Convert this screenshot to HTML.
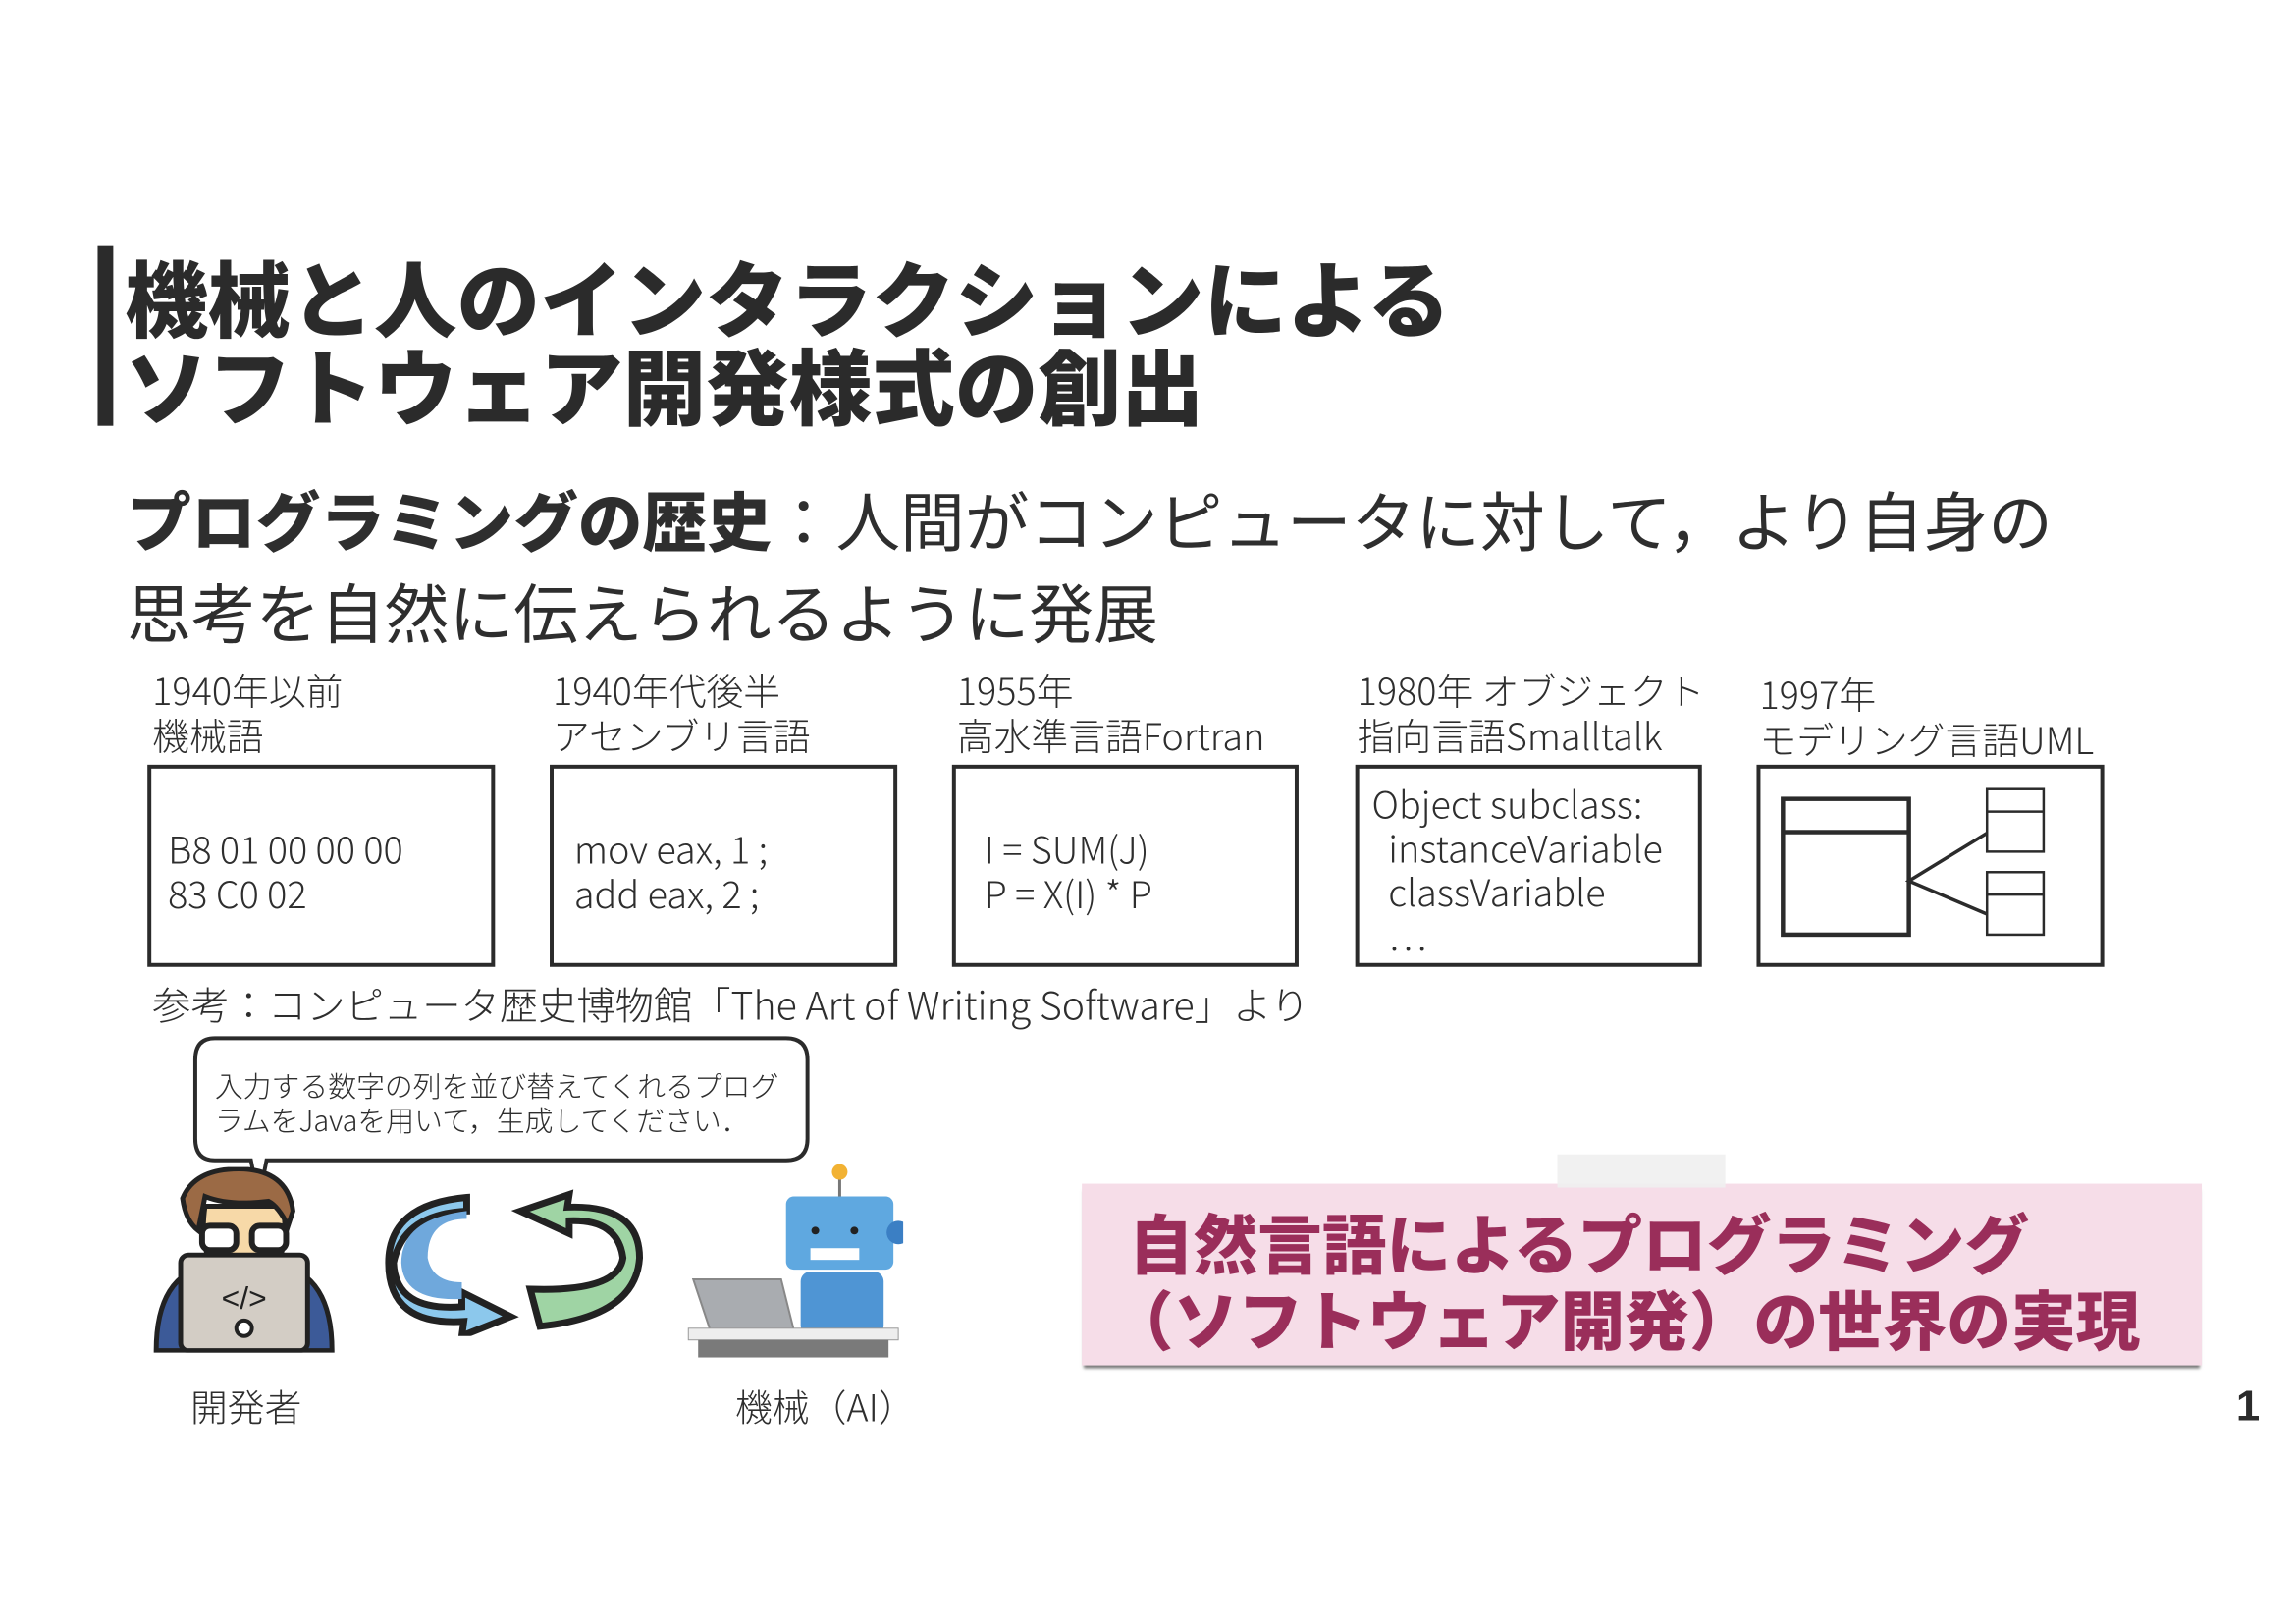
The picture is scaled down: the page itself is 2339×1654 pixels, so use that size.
<!DOCTYPE html>
<html><head><meta charset="utf-8">
<style>
body{margin:0;background:#fff;}
#w{position:relative;width:2339px;height:1654px;overflow:hidden;background:#fff;}
#p{position:absolute;left:0;top:0;width:2352px;height:1663px;transform:scale(0.9947);transform-origin:0 0;font-family:"Liberation Sans","Noto Sans CJK JP",sans-serif;color:#2e2e2e;}
.a{position:absolute;white-space:nowrap;line-height:1;}
.j{font-family:"Noto Sans CJK JP",sans-serif;}
.box{position:absolute;border:4px solid #2b2b2b;box-sizing:border-box;}
.lab{font-size:38px;font-weight:300;}
.code{font-size:38px;font-weight:300;line-height:46px;}
</style></head><body><div id="w"><div id="p">
<div style="position:absolute;left:100px;top:252px;width:16px;height:184px;background:#2b2b2b"></div>
<div class="a j" style="left:128px;top:258px;font-size:85px;font-weight:900;line-height:90px;color:#2b2b2b">機械と人のインタラクションによる<br>ソフトウェア開発様式の創出</div>
<div class="a j" style="left:130px;top:484px;font-size:66px;line-height:94px;font-weight:400"><b style="font-weight:900">プログラミングの歴史</b>：人間がコンピュータに対して，より自身の<br>思考を自然に伝えられるように発展</div>

<div class="a j lab" style="left:156px;top:683px;line-height:46px">1940年以前<br>機械語</div>
<div class="a j lab" style="left:566px;top:683px;line-height:46px">1940年代後半<br>アセンブリ言語</div>
<div class="a j lab" style="left:980px;top:683px;line-height:46px">1955年<br>高水準言語Fortran</div>
<div class="a j lab" style="left:1390px;top:683px;line-height:46px">1980年 オブジェクト<br>指向言語Smalltalk</div>
<div class="a j lab" style="left:1802px;top:687px;line-height:46px">1997年<br>モデリング言語UML</div>

<div class="box" style="left:151px;top:783px;width:356px;height:207px"></div>
<div class="box" style="left:563px;top:783px;width:356px;height:207px"></div>
<div class="box" style="left:975px;top:783px;width:355px;height:207px"></div>
<div class="box" style="left:1388px;top:783px;width:355px;height:207px"></div>
<div class="box" style="left:1799px;top:783px;width:356px;height:207px"></div>

<div class="a j code" style="left:172px;top:845px">B8 01 00 00 00<br>83 C0 02</div>
<div class="a j code" style="left:588px;top:845px">mov eax, 1 ;<br>add eax, 2 ;</div>
<div class="a j code" style="left:1008px;top:845px">I = SUM(J)<br>P = X(I) * P</div>
<div class="a j code" style="left:1405px;top:799px;line-height:45px">Object subclass:<br>&nbsp;&nbsp;instanceVariable<br>&nbsp;&nbsp;classVariable<br>&nbsp;&nbsp;…</div>
<svg class="a" style="left:1799px;top:783px" width="356" height="207">
<g fill="none" stroke="#2b2b2b">
<rect x="27" y="35" width="129" height="139" stroke-width="4.5"/>
<line x1="27" y1="69" x2="156" y2="69" stroke-width="4.5"/>
<rect x="236" y="25" width="58" height="64" stroke-width="2.5"/>
<line x1="236" y1="48" x2="294" y2="48" stroke-width="2.5"/>
<rect x="236" y="110" width="58" height="64" stroke-width="2.5"/>
<line x1="236" y1="133" x2="294" y2="133" stroke-width="2.5"/>
<polyline points="236,70 156,119 236,153" stroke-width="3.5"/>
</g></svg>

<div class="a j" style="left:156px;top:1008px;font-size:39.5px;font-weight:300">参考：コンピュータ歴史博物館「The Art of Writing Software」より</div>

<svg class="a" style="left:195px;top:1058px" width="645" height="180">
<path d="M25,5 H610 Q632,5 632,27 V108 Q632,130 610,130 H78 L70,170 L62,130 H25 Q5,130 5,108 V27 Q5,5 25,5 Z" fill="#fff" stroke="#2b2b2b" stroke-width="4"/>
</svg>
<div class="a j" style="left:220px;top:1094px;font-size:29px;font-weight:300;line-height:35px">入力する数字の列を並び替えてくれるプログ<br>ラムをJavaを用いて，生成してください．</div>

<!-- developer -->
<svg class="a" style="left:155px;top:1195px" width="190" height="190">
<path d="M5,188 Q5,110 60,100 L130,100 Q185,110 185,188 Z" fill="#3c5a98" stroke="#222" stroke-width="5"/>
<path d="M55,40 Q45,110 95,125 Q145,110 135,40 Z" fill="#f7d9a8" stroke="#222" stroke-width="5"/>
<path d="M32,32 Q45,0 95,2 Q140,5 145,45 L140,60 Q130,40 120,35 Q80,40 55,30 L48,65 Q35,55 32,32 Z" fill="#9b6a45" stroke="#222" stroke-width="5"/>
<rect x="52" y="60" width="35" height="25" rx="8" fill="#fff" stroke="#222" stroke-width="6"/>
<rect x="103" y="60" width="35" height="25" rx="8" fill="#fff" stroke="#222" stroke-width="6"/>
<rect x="30" y="90" width="130" height="98" rx="8" fill="#d3cdc5" stroke="#222" stroke-width="5"/>
<text x="95" y="145" font-size="32" font-family="Liberation Sans,sans-serif" text-anchor="middle" fill="#222">&lt;/&gt;</text>
<circle cx="95" cy="165" r="8" fill="#fff" stroke="#222" stroke-width="4"/>
</svg>

<!-- arrows -->
<svg class="a" style="left:393px;top:1218px" width="270" height="150">
<path d="M85,22 Q20,25 10,75 Q12,125 80,120 L80,105 L130,130 L80,150 L82,135 Q5,140 5,75 Q5,15 85,8 Z" fill="#8cc8ec" stroke="#222" stroke-width="7"/>
<path d="M85,30 Q45,30 45,70 Q50,95 80,95 L80,112 Q20,115 18,75 Q18,30 85,22 Z" fill="#6fa8dc"/>
<path d="M150,92 Q240,95 245,60 Q240,20 190,22 L190,35 L140,12 L190,-5 L188,8 Q262,5 262,60 Q258,120 160,130 Z" fill="#9fd4a4" stroke="#222" stroke-width="7" transform="translate(0,10)"/>
</svg>

<!-- robot -->
<svg class="a" style="left:700px;top:1190px" width="225" height="200">
<line x1="160" y1="10" x2="160" y2="35" stroke="#777" stroke-width="3"/>
<circle cx="160" cy="10" r="8" fill="#f2b233"/>
<rect x="105" y="35" width="110" height="75" rx="8" fill="#5fa8e0"/>
<circle cx="220" cy="72" r="12" fill="#3b7fc4"/>
<circle cx="135" cy="70" r="4" fill="#222"/><circle cx="175" cy="70" r="4" fill="#222"/>
<rect x="130" y="88" width="50" height="12" fill="#fff"/>
<rect x="120" y="112" width="85" height="65" rx="10" fill="#4f95d4"/>
<path d="M10,120 L100,120 L115,180 L30,180 Z" fill="#a9acb0" stroke="#888" stroke-width="2"/>
<rect x="5" y="170" width="215" height="12" fill="#eee" stroke="#999"/>
<rect x="15" y="182" width="195" height="18" fill="#7a7a7a"/>
</svg>

<div class="a j" style="left:195px;top:1420px;font-size:38px;font-weight:300">開発者</div>
<div class="a j" style="left:753px;top:1420px;font-size:38px;font-weight:300">機械（AI）</div>

<div style="position:absolute;left:1108px;top:1212px;width:1147px;height:186px;background:#f6dde8;box-shadow:0 5px 3px -2px #777"></div>
<div style="position:absolute;left:1595px;top:1182px;width:172px;height:34px;background:rgba(240,240,240,0.9)"></div>
<div class="a j" style="left:1156px;top:1232px;font-size:66px;font-weight:900;line-height:78px;color:#9a2e5a">自然言語によるプログラミング<br><span style="margin-left:-20px">（ソフトウェア開発）の世界の実現</span></div>

<div class="a" style="left:2290px;top:1418px;font-size:44px;font-weight:bold;color:#2b2b2b">1</div>
</div></div></body></html>
